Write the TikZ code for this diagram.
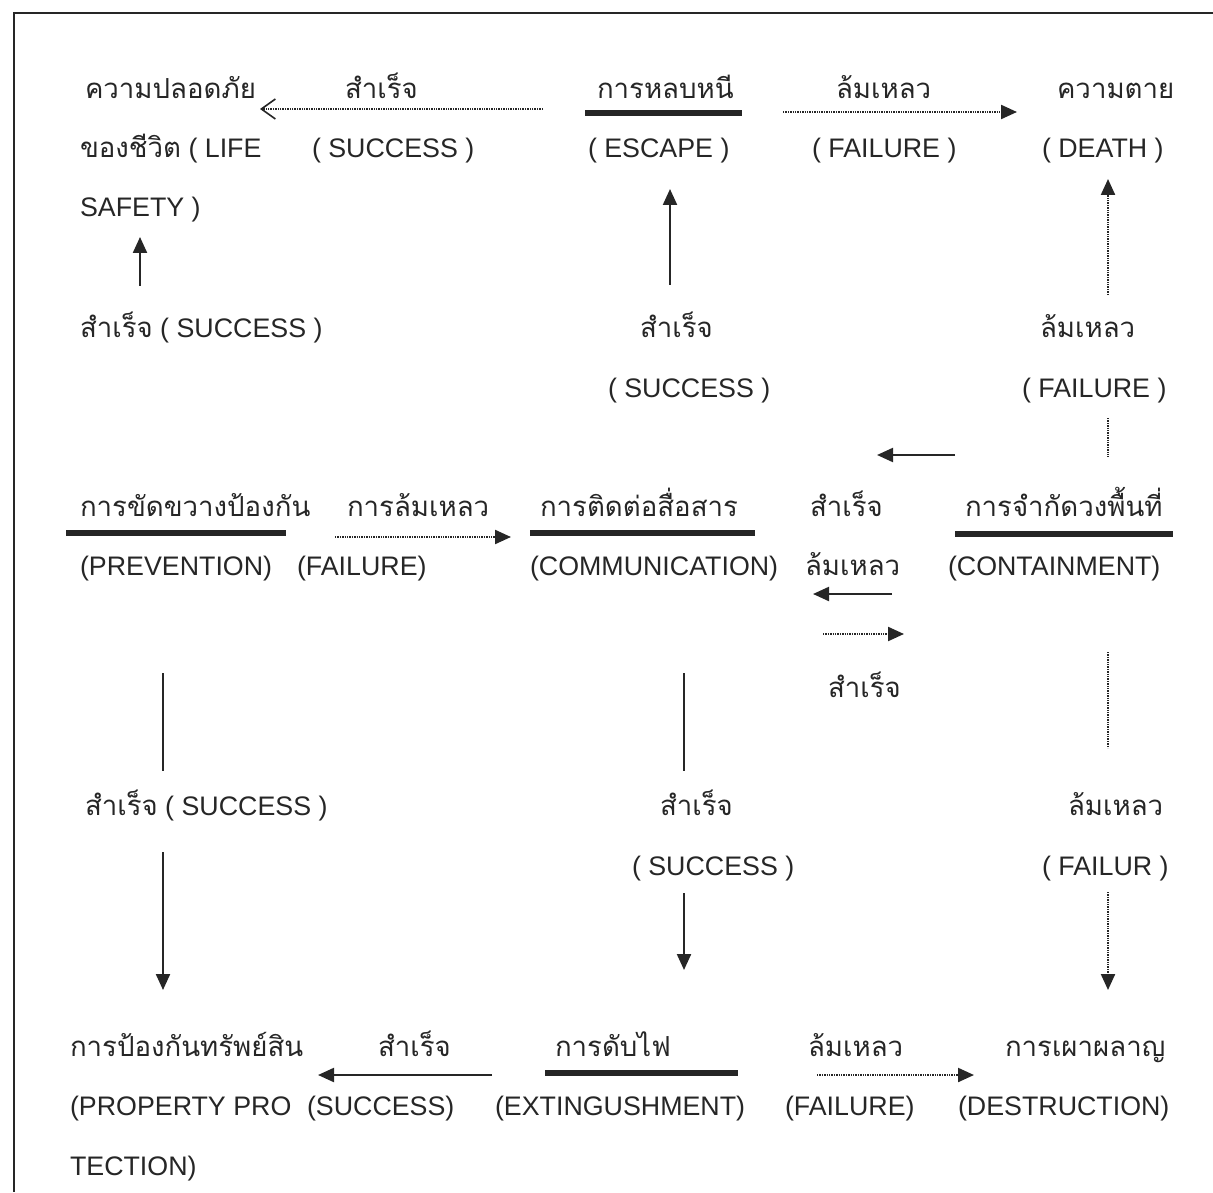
\documentclass[tikz,border=0pt]{standalone}
\usepackage{fontspec}
\setmainfont{Liberation Sans}
\newfontfamily\thai[Script=Thai,Scale=1.03]{Loma}
\usetikzlibrary{arrows.meta}
\definecolor{ink}{HTML}{262626}
\begin{document}
\begin{tikzpicture}[x=0.5pt,y=-0.5pt,
  lbl/.style={anchor=base west, inner sep=0pt, outer sep=0pt, text=ink, font=\fontsize{13.4}{15}\selectfont},
  th/.style={lbl, font=\fontsize{13.4}{15}\thai},
  bar/.style={draw=ink, line width=3pt},
  sol/.style={draw=ink, line width=1.1pt, -{Triangle[length=8pt,width=7pt]}},
  plain/.style={draw=ink, line width=1.1pt},
  dotl/.style={draw=ink, line width=1.1pt, dash pattern=on 0.7pt off 0.5pt},
  dota/.style={dotl, -{Triangle[length=8pt,width=7pt]}},
  dotopen/.style={dotl, -{Straight Barb[length=7pt,width=10pt,line width=0.8pt]}},
  frame/.style={draw=ink, line width=1pt}]
\useasboundingbox (0,0) rectangle (1213,1192);
% frame
\coordinate (fTR) at (1213,13);
\coordinate (fTL) at (14,13);
\coordinate (fBL) at (14,1192);
\draw[frame] (fTR) -- (fTL) -- (fBL);

% Row A
\node[th] (safetyTh) at (85,99) {ความปลอดภัย};
\node[th] (sA) at (345,99) {สำเร็จ};
\node[th] (escTh) at (597,99) {การหลบหนี};
\node[th] (fA) at (836,99) {ล้มเหลว};
\node[th] (deathTh) at (1057,99) {ความตาย};
% Row B
\node[lbl] (safetyB) at (80,158) {{\thai ของชีวิต} ( LIFE};
\node[lbl] (sB) at (312,158) {( SUCCESS )};
\node[lbl] (escEn) at (588,158) {( ESCAPE )};
\node[lbl] (fB) at (812,158) {( FAILURE )};
\node[lbl] (deathEn) at (1042,158) {( DEATH )};
% Row C
\node[lbl] (safetyC) at (80,217) {SAFETY )};
% Row D
\node[lbl] (sD1) at (80,337) {{\thai สำเร็จ} ( SUCCESS )};
\node[th] (sD2) at (640,337) {สำเร็จ};
\node[th] (fD) at (1040,337) {ล้มเหลว};
% Row E
\node[lbl] (sE) at (608,397) {( SUCCESS )};
\node[lbl] (fE) at (1022,397) {( FAILURE )};
% Row F
\node[th] (prevTh) at (80,516) {การขัดขวางป้องกัน};
\node[th] (fF) at (347,516) {การล้มเหลว};
\node[th] (commTh) at (540,516) {การติดต่อสื่อสาร};
\node[th] (sF) at (810,516) {สำเร็จ};
\node[th] (contTh) at (965,516) {การจำกัดวงพื้นที่};
% Row G
\node[lbl] (prevEn) at (80,575) {(PREVENTION)};
\node[lbl] (fG) at (297,575) {(FAILURE)};
\node[lbl] (commEn) at (530,575) {(COMMUNICATION)};
\node[th] (fG2) at (805,575) {ล้มเหลว};
\node[lbl] (contEn) at (948,575) {(CONTAINMENT)};
% Row H
\node[th] (sH) at (828,697) {สำเร็จ};
% Row I
\node[lbl] (sI1) at (85,815) {{\thai สำเร็จ} ( SUCCESS )};
\node[th] (sI2) at (660,815) {สำเร็จ};
\node[th] (fI) at (1068,815) {ล้มเหลว};
% Row J
\node[lbl] (sJ) at (632,875) {( SUCCESS )};
\node[lbl] (fJ) at (1042,875) {( FAILUR )};
% Row K
\node[th] (propTh) at (70,1056) {การป้องกันทรัพย์สิน};
\node[th] (sK) at (378,1056) {สำเร็จ};
\node[th] (extTh) at (555,1056) {การดับไฟ};
\node[th] (fK) at (808,1056) {ล้มเหลว};
\node[th] (destTh) at (1005,1056) {การเผาผลาญ};
% Row L
\node[lbl] (propEn) at (70,1115) {(PROPERTY PRO};
\node[lbl] (sL) at (307,1115) {(SUCCESS)};
\node[lbl] (extEn) at (495,1115) {(EXTINGUSHMENT)};
\node[lbl] (fL) at (785,1115) {(FAILURE)};
\node[lbl] (destEn) at (958,1115) {(DESTRUCTION)};
% Row M
\node[lbl] (propM) at (70,1175) {TECTION)};

% bars
\coordinate (b1a) at (585,113); \coordinate (b1b) at (742,113);
\coordinate (b2a) at (66,533);  \coordinate (b2b) at (286,533);
\coordinate (b3a) at (530,533); \coordinate (b3b) at (755,533);
\coordinate (b4a) at (955,534); \coordinate (b4b) at (1173,534);
\coordinate (b5a) at (545,1073); \coordinate (b5b) at (738,1073);
\draw[bar] (b1a) -- (b1b);
\draw[bar] (b2a) -- (b2b);
\draw[bar] (b3a) -- (b3b);
\draw[bar] (b4a) -- (b4b);
\draw[bar] (b5a) -- (b5b);

% arrows top
\coordinate (a1s) at (543,109); \coordinate (a1e) at (260,109);
\draw[dotopen] (a1s) -- (a1e);
\coordinate (a2s) at (783,112); \coordinate (a2e) at (1017,112);
\draw[dota] (a2s) -- (a2e);
\coordinate (a3s) at (140,286); \coordinate (a3e) at (140,237);
\draw[sol] (a3s) -- (a3e);
\coordinate (a4s) at (670,285); \coordinate (a4e) at (670,189);
\draw[sol] (a4s) -- (a4e);
\coordinate (a5s) at (1108,295); \coordinate (a5e) at (1108,179);
\draw[dota] (a5s) -- (a5e);
\coordinate (a6s) at (1108,418); \coordinate (a6e) at (1108,457);
\draw[dotl] (a6s) -- (a6e);
\coordinate (a7s) at (955,455); \coordinate (a7e) at (877,455);
\draw[sol] (a7s) -- (a7e);
% middle
\coordinate (a8s) at (335,537); \coordinate (a8e) at (511,537);
\draw[dota] (a8s) -- (a8e);
\coordinate (a9s) at (892,594); \coordinate (a9e) at (813,594);
\draw[sol] (a9s) -- (a9e);
\coordinate (a10s) at (823,634); \coordinate (a10e) at (904,634);
\draw[dota] (a10s) -- (a10e);
% verticals
\coordinate (v1a) at (163,673); \coordinate (v1b) at (163,771);
\draw[plain] (v1a) -- (v1b);
\coordinate (v1c) at (163,852); \coordinate (v1d) at (163,990);
\draw[sol] (v1c) -- (v1d);
\coordinate (v2a) at (684,673); \coordinate (v2b) at (684,771);
\draw[plain] (v2a) -- (v2b);
\coordinate (v2c) at (684,893); \coordinate (v2d) at (684,970);
\draw[sol] (v2c) -- (v2d);
\coordinate (v3a) at (1108,652); \coordinate (v3b) at (1108,748);
\draw[dotl] (v3a) -- (v3b);
\coordinate (v3c) at (1108,892); \coordinate (v3d) at (1108,990);
\draw[dota] (v3c) -- (v3d);
% bottom
\coordinate (a11s) at (492,1075); \coordinate (a11e) at (318,1075);
\draw[sol] (a11s) -- (a11e);
\coordinate (a12s) at (817,1075); \coordinate (a12e) at (974,1075);
\draw[dota] (a12s) -- (a12e);
\end{tikzpicture}
\end{document}
